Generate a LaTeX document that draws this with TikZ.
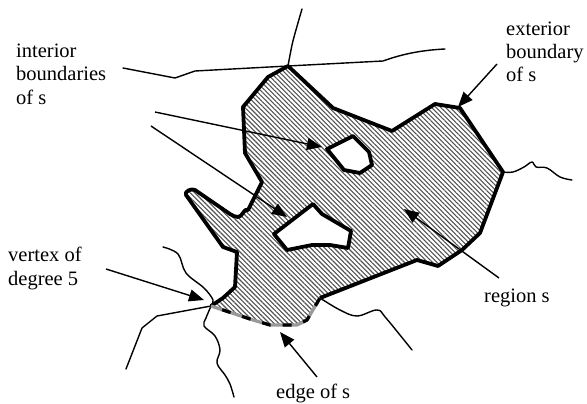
\documentclass[tikz,border=0pt]{standalone}
\usepackage{fontspec}
\setmainfont{Liberation Serif}
\usetikzlibrary{arrows.meta,patterns.meta}
\begin{document}
\begin{tikzpicture}[x=1pt,y=-1pt,
  thinline/.style={line width=1.4pt, line join=round, line cap=round},
  bnd/.style={line width=3.8pt, line join=round},
  ptr/.style={line width=1.4pt, -{Triangle[length=15pt,width=12pt]}},
  lbl/.style={font=\fontsize{20.5}{23.5}\selectfont, align=left, inner sep=0pt, anchor=base west},
  hatch/.style={pattern={Lines[angle=-45,distance=3.3pt,line width=1.1pt]}, pattern color=black!68}
]
\useasboundingbox (0,0) rectangle (587,404);

% key vertices
\coordinate (vtop) at (288,66);
\coordinate (vright) at (503,172);
\coordinate (vdeg) at (211,306);
\coordinate (vedge) at (320,298);

% region fill (with holes)
\fill[hatch, even odd rule]
  (vdeg) -- (223,298) -- (235,287) -- (237,252) -- (223,247) -- (186,195)
  to[out=120,in=150] (195,190) -- (230,214) to[out=-30,in=180] (238,217) -- (248,210) -- (262,182) -- (245,153)
  -- (243,107) -- (268,77) -- (vtop) -- (333,108) -- (392,131) -- (435,104)
  -- (460,108) -- (vright) -- (480,233) -- (462,250) -- (438,266) -- (417,260)
  -- (vedge) -- (307,320) -- (297,325) -- (270,325) -- (253,320) -- cycle
  (327,149) -- (353,136) -- (369,152) -- (372,165) -- (360,173) -- (344,170) -- cycle
  (274,234) -- (313,204) -- (322,214) -- (351,231) -- (348,248) -- (330,245) -- (312,245) -- (287,250) -- cycle;

% thin graph lines
\draw[thinline] (123,68) -- (175,78) -- (195,71) -- (vtop) -- (383,61)
  .. controls (405,53) and (425,50) .. (445,49);
\draw[thinline] plot[smooth,tension=0.6] coordinates {(288,66) (291,50) (294,37) (302,9)};
\draw[thinline] plot[smooth,tension=0.6] coordinates {(503,172) (513,172) (524,167) (532,162) (536,167) (547,168) (560,177) (572,180)};
\draw[thinline] plot[smooth,tension=0.6] coordinates {(320,298) (340,310) (357,316) (377,310) (386,318) (412,350)};
\draw[thinline] (vdeg) -- (157,316) -- (142,328) -- (126,369);
\draw[thinline] plot[smooth,tension=0.6] coordinates {(163,247) (178,254) (186,273) (204,288) (213,300) (211,306) (206,318) (204,326) (215,336) (220,350) (217,363) (225,375) (230,384) (234,397)};

% exterior boundary (thick), edge excluded
\draw[bnd] (vedge) -- (417,260) -- (438,266) -- (462,250) -- (480,233) -- (vright)
  -- (460,108) -- (435,104) -- (392,131) -- (333,108) -- (vtop) -- (268,77) -- (243,107)
  -- (245,153) -- (262,182) -- (248,210) to[out=150,in=0] (238,217) to[out=180,in=-30] (230,214)
  -- (195,190) to[out=150,in=120] (186,195) -- (223,247) -- (237,252) -- (235,287) -- (223,298) -- (vdeg);
% holes
\draw[bnd, fill=white] (327,149) -- (353,136) -- (369,152) -- (372,165) -- (360,173) -- (344,170) -- cycle;
\draw[bnd, fill=white] (274,234) -- (313,204) -- (322,214) -- (351,231) -- (348,248) -- (330,245) -- (312,245) -- (287,250) -- cycle;

% edge of s
\draw[line width=3.2pt, black!40, line join=round] (vedge) -- (307,320) -- (297,325) -- (270,325) -- (253,320) -- (vdeg);
\draw[line width=3.2pt, dash pattern=on 9pt off 12pt, line join=round] (vedge) -- (307,320) -- (297,325) -- (270,325) -- (253,320) -- (vdeg);

% labels (base = baseline of last line)
\node[lbl] (lint) at (16,104) {interior\\boundaries\\of s};
\node[lbl] (lext) at (506,82) {exterior\\boundary\\of s};
\node[lbl] (lvtx) at (8,285) {vertex of\\degree 5};
\node[lbl] (lreg) at (484,302) {region s};
\node[lbl] (ledg) at (276,398) {edge of s};

% arrow end points
\coordinate (a1s) at (155,112); \coordinate (a1e) at (322,147);
\coordinate (a2s) at (151,126); \coordinate (a2e) at (287,217);
\coordinate (a3s) at (497,64);  \coordinate (a3e) at (458,107);
\coordinate (a4s) at (499,278); \coordinate (a4e) at (404,209);
\coordinate (a5s) at (106,269); \coordinate (a5e) at (204,300);
\coordinate (a6s) at (317,377); \coordinate (a6e) at (280,332);

\draw[ptr] (a1s) -- (a1e);
\draw[ptr] (a2s) -- (a2e);
\draw[ptr] (a3s) -- (a3e);
\draw[ptr] (a4s) -- (a4e);
\draw[ptr] (a5s) -- (a5e);
\draw[ptr] (a6s) -- (a6e);
\end{tikzpicture}
\end{document}
